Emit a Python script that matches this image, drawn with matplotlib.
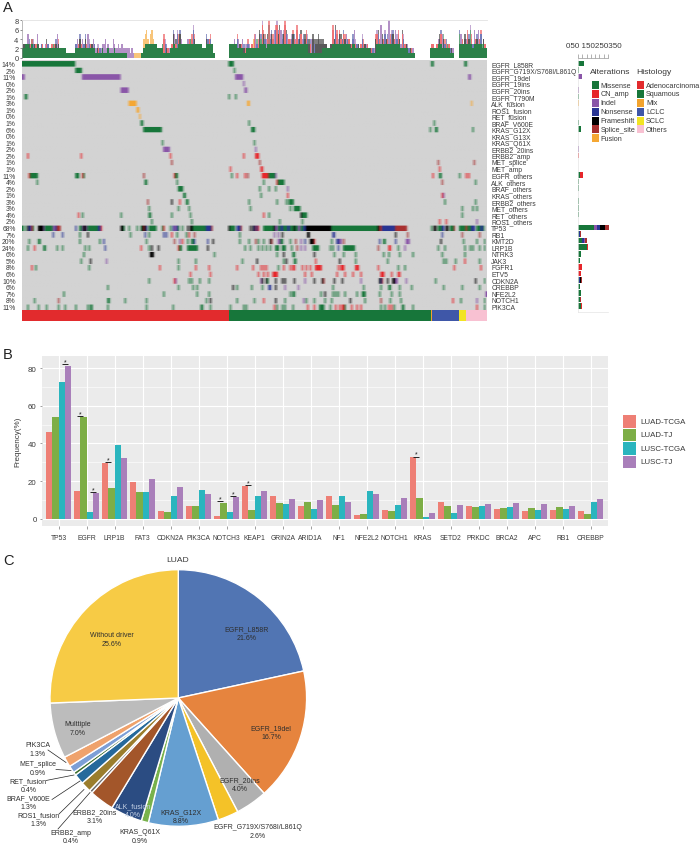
import numpy as np
import matplotlib
matplotlib.use("Agg")
import matplotlib.pyplot as plt
from matplotlib.colors import to_rgb
from matplotlib.patches import Rectangle

plt.rcParams['font.family'] = ['Liberation Sans', 'DejaVu Sans']
W, H = 700, 845

# ---------- Panel A data ----------
onco_genes = ["EGFR_L858R", "EGFR_G719X/S768I/L861Q", "EGFR_19del", "EGFR_19ins", "EGFR_20ins", "EGFR_T790M",
              "ALK_fusion", "ROS1_fusion", "RET_fusion", "BRAF_V600E", "KRAS_G12X", "KRAS_G13X", "KRAS_Q61X",
              "ERBB2_20ins", "ERBB2_amp", "MET_splice", "MET_amp", "EGFR_others", "ALK_others", "BRAF_others",
              "KRAS_others", "ERBB2_others", "MET_others", "RET_others", "ROS1_others", "TP53", "RB1", "KMT2D",
              "LRP1B", "NTRK3", "JAK3", "FGFR1", "ETV5", "CDKN2A", "CREBBP", "NFE2L2", "NOTCH1", "PIK3CA"]
onco_pct = [14, 2, 11, 0, 2, 1, 3, 1, 0, 1, 6, 0, 1, 2, 2, 1, 1, 11, 4, 2, 1, 3, 3, 4, 2, 68, 7, 20, 24, 6, 5, 8, 6,
            10, 6, 7, 8, 11]
n_samples = 349

# events per gene: (first sample, number of samples, alteration)
ev_l858r = [(0,40,'M'),(155,4,'M'),(307,2,'M'),(332,2,'M')]
ev_g719 = [(40,5,'M'),(159,1,'M')]
ev_19del = [(0,2,'I'),(45,29,'I'),(160,6,'I'),(335,2,'I')]
ev_19ins = [(166,1,'I')]
ev_20ins = [(74,6,'I'),(167,2,'I')]
ev_t790m = [(2,2,'M'),(155,1,'M'),(160,1,'M')]
ev_alkf = [(80,6,'U'),(169,2,'U'),(337,1,'U')]
ev_ros1f = [(86,2,'U')]
ev_retf = [(88,1,'U')]
ev_braf = [(89,2,'M'),(170,1,'M'),(309,1,'M')]
ev_g12x = [(91,14,'M'),(172,3,'M'),(306,1,'M'),(310,2,'M'),(338,1,'M')]
ev_g13x = []
ev_q61x = [(105,1,'M'),(174,1,'M')]
ev_e20 = [(106,5,'I'),(175,1,'I')]
ev_eamp = [(4,1,'C'),(44,1,'C'),(111,1,'C'),(166,1,'C'),(175,3,'C')]
ev_msplice = [(112,1,'S'),(178,1,'S'),(312,1,'S'),(339,1,'S')]
ev_mamp = [(156,1,'C'),(179,2,'C'),(313,1,'C')]
ev_egfro = [(5,1,'C'),(6,6,'M'),(40,3,'M'),(45,1,'C'),(46,1,'M'),(91,1,'S'),(114,1,'C'),(115,2,'M'),(157,1,'M'),
            (161,1,'C'),(167,1,'C'),(169,1,'S'),(180,5,'C'),(185,5,'M'),(190,1,'I'),(308,1,'C'),(313,2,'M'),
            (328,1,'M'),(333,1,'C'),(335,1,'C')]
ev_alko = [(11,1,'M'),(92,2,'M'),(116,1,'M'),(181,1,'M'),(191,1,'C'),(192,5,'M'),(315,1,'S'),(340,1,'M')]
ev_brafo = [(117,1,'M'),(118,3,'M'),(178,1,'M'),(185,1,'M'),(190,1,'M'),(199,1,'I')]
ev_kraso = [(121,2,'M'),(179,1,'M'),(199,1,'C'),(315,1,'C'),(316,1,'I')]
ev_erbbo = [(94,1,'S'),(112,1,'F'),(118,1,'C'),(123,2,'M'),(170,1,'M'),(191,1,'M'),(198,1,'M'),(200,4,'M'),
            (317,1,'M'),(340,1,'M')]
ev_meto = [(95,1,'M'),(117,1,'M'),(125,1,'M'),(171,1,'M'),(201,1,'M'),(204,5,'M'),(330,1,'M'),(338,1,'M'),(341,1,'M')]
ev_reto = [(42,1,'C'),(45,1,'M'),(74,1,'M'),(95,2,'M'),(112,1,'M'),(126,1,'M'),(181,1,'C'),(185,1,'M'),(209,1,'F'),
           (210,4,'M'),(330,1,'M')]
ev_ros1o = [(97,1,'M'),(127,1,'M'),(193,1,'M'),(210,1,'M'),(313,1,'C'),(318,1,'C'),(341,1,'I')]
ev_tp53 = [(0,1,'M'),(2,1,'M'),(4,1,'F'),(5,2,'N'),(7,1,'C'),(8,1,'M'),(12,4,'F'),(16,1,'I'),(17,6,'M'),(23,2,'I'),
           (25,1,'N'),(26,3,'S'),(40,1,'N'),(43,2,'M'),(45,1,'I'),(46,2,'F'),(48,1,'I'),(49,8,'M'),(57,2,'N'),
           (59,1,'C'),(74,2,'F'),(76,1,'M'),(80,1,'M'),(86,1,'M'),(89,1,'M'),(90,1,'F'),(91,1,'S'),(92,1,'F'),
           (93,1,'N'),(95,6,'M'),(105,1,'M'),(106,1,'C'),(111,1,'M'),(113,1,'N'),(114,2,'I'),(116,1,'N'),
           (117,1,'M'),(120,1,'M'),(124,1,'F'),(126,2,'F'),(128,10,'M'),(138,4,'N'),(142,1,'S'),(155,1,'F'),
           (156,4,'M'),(161,3,'N'),(164,1,'S'),(171,1,'F'),(173,1,'F'),(174,1,'N'),(175,1,'S'),(176,1,'N'),
           (177,1,'C'),(181,8,'M'),(189,1,'F'),(190,2,'I'),(192,2,'M'),(194,2,'N'),(196,3,'M'),(199,2,'N'),
           (201,3,'M'),(204,1,'F'),(205,2,'M'),(207,2,'I'),(209,2,'M'),(211,2,'N'),(213,19,'F'),(232,35,'M'),
           (267,1,'F'),(268,2,'S'),(270,10,'N'),(280,9,'S'),(307,1,'M'),(309,2,'F'),(312,2,'M'),(314,1,'M'),
           (315,2,'N'),(318,2,'F'),(321,3,'M'),(324,1,'S'),(328,5,'M'),(333,1,'C'),(334,3,'M'),(337,3,'N'),
           (341,3,'M'),(344,2,'N'),(346,1,'M')]
ev_rb1 = [(23,1,'N'),(30,1,'N'),(43,1,'M'),(49,1,'F'),(81,1,'M'),(92,1,'N'),(95,1,'M'),(106,1,'N'),(108,1,'N'),
          (112,1,'C'),(116,1,'M'),(123,1,'M'),(125,1,'C'),(129,1,'S'),(163,1,'M'),(189,1,'I'),(192,1,'I'),(195,1,'F'),
          (214,2,'F'),(233,2,'N'),(280,1,'F'),(289,1,'S'),(315,1,'N'),(330,1,'S'),(343,1,'S')]
ev_kmt2d = [(5,1,'M'),(12,2,'M'),(43,1,'M'),(58,1,'M'),(61,1,'N'),(93,1,'M'),(114,1,'S'),(118,1,'I'),(120,1,'C'),
            (124,1,'M'),(127,2,'M'),(129,1,'N'),(139,1,'N'),(143,1,'F'),(163,1,'M'),(170,1,'M'),(175,1,'S'),
            (177,1,'M'),(181,1,'M'),(186,1,'F'),(187,1,'S'),(192,2,'I'),(194,2,'M'),(201,1,'M'),(205,1,'S'),
            (209,1,'I'),(212,1,'N'),(216,3,'F'),(219,1,'C'),(232,1,'M'),(236,2,'N'),(238,2,'I'),(241,1,'S'),
            (268,1,'N'),(271,2,'M'),(280,1,'N'),(288,3,'I'),(314,1,'F'),(331,1,'M'),(341,1,'M'),(347,1,'M')]
ev_lrp1b = [(4,1,'M'),(9,1,'C'),(16,1,'M'),(17,1,'M'),(26,1,'M'),(30,1,'M'),(47,1,'M'),(50,1,'M'),(62,1,'N'),(89,1,'C'),
            (95,1,'M'),(97,1,'F'),(102,1,'F'),(117,1,'C'),(118,2,'M'),(124,5,'M'),(129,3,'M'),(139,1,'F'),
            (167,1,'M'),(171,1,'M'),(177,1,'M'),(180,1,'M'),(183,1,'M'),(186,1,'M'),(190,3,'M'),(195,3,'M'),
            (202,1,'M'),(206,1,'S'),(209,1,'I'),(212,1,'I'),(218,5,'M'),(231,1,'M'),(233,1,'M'),(237,1,'N'),
            (241,9,'M'),(267,1,'S'),(275,2,'C'),(282,1,'M'),(287,1,'I'),(312,1,'M'),(317,1,'M'),(332,1,'M'),
            (336,1,'M'),(338,1,'M'),(343,1,'M'),(347,1,'M')]
ev_ntrk3 = [(46,1,'M'),(96,3,'F'),(144,1,'M'),(191,1,'M'),(196,1,'F'),(203,2,'M'),(219,1,'F'),(234,1,'M'),(241,1,'M'),
            (250,1,'M'),(271,1,'M'),(275,1,'M'),(283,1,'M'),(293,1,'M'),(315,1,'M'),(332,1,'M')]
ev_jak3 = [(44,1,'M'),(51,1,'F'),(63,1,'I'),(117,1,'M'),(130,1,'M'),(165,1,'M'),(176,1,'F'),(196,1,'M'),(198,1,'F'),
           (204,2,'M'),(220,1,'C'),(238,1,'F'),(250,1,'M'),(274,1,'M'),(316,1,'M'),(318,1,'M'),(325,1,'M'),
           (332,1,'C'),(343,1,'M')]
ev_fgfr1 = [(7,1,'C'),(10,1,'M'),(50,1,'M'),(103,1,'C'),(117,1,'M'),(130,1,'C'),(140,1,'C'),(161,1,'C'),(173,1,'C'),
            (179,1,'C'),(181,1,'C'),(183,1,'C'),(192,1,'M'),(196,1,'C'),(201,1,'C'),(203,2,'C'),(210,1,'C'),
            (213,1,'C'),(216,1,'C'),(220,5,'C'),(237,1,'C'),(239,3,'C'),(250,3,'C'),(267,1,'C'),(282,1,'M'),
            (287,1,'M'),(324,1,'C'),(344,1,'C')]
ev_etv5 = [(126,1,'C'),(141,1,'C'),(177,1,'C'),(181,1,'C'),(184,1,'C'),(188,4,'C'),(212,1,'C'),(217,1,'C'),(236,1,'C'),
           (242,1,'C'),(248,1,'C'),(254,1,'C'),(269,3,'C'),(277,1,'C'),(282,2,'C')]
ev_cdkn2a = [(95,1,'M'),(114,1,'C'),(115,1,'I'),(125,1,'M'),(127,1,'M'),(133,1,'M'),(140,1,'M'),(179,1,'I'),(180,1,'F'),
             (183,1,'F'),(184,1,'M'),(190,1,'F'),(195,1,'F'),(197,1,'F'),(204,1,'F'),(212,1,'I'),(219,1,'F'),
             (225,1,'F'),(226,1,'S'),(234,1,'F'),(240,1,'F'),(254,1,'I'),(268,1,'F'),(269,1,'N'),(270,1,'S'),
             (274,1,'F'),(278,2,'F'),(280,2,'I'),(288,1,'I'),(310,1,'M'),(340,1,'F'),(347,1,'M')]
ev_crebbp = [(64,1,'M'),(117,1,'M'),(128,1,'M'),(131,1,'M'),(158,1,'F'),(161,1,'M'),(172,1,'M'),(180,1,'M'),(185,2,'N'),
             (190,1,'F'),(197,1,'I'),(207,1,'I'),(233,1,'M'),(256,1,'M'),(269,1,'M'),(275,2,'M'),(283,1,'M'),
             (292,1,'M'),(316,1,'M'),(330,1,'M'),(343,1,'M')]
ev_nfe2l2 = [(31,1,'M'),(106,1,'M'),(131,1,'M'),(140,1,'M'),(201,1,'M'),(203,2,'M'),(224,1,'M'),(227,1,'F'),(233,1,'M'),
             (235,1,'M'),(237,1,'M'),(242,1,'M'),(251,1,'M'),(255,3,'M'),(268,1,'M'),(277,1,'M'),(283,1,'M'),(348,1,'I')]
ev_notch1 = [(9,1,'M'),(27,1,'S'),(64,2,'M'),(77,1,'M'),(93,1,'M'),(138,1,'M'),(141,1,'F'),(161,1,'M'),(174,1,'M'),
             (181,1,'C'),(190,1,'F'),(197,1,'M'),(211,1,'I'),(213,1,'M'),(219,1,'M'),(227,1,'M'),(232,1,'M'),
             (246,1,'F'),(257,1,'M'),(269,1,'S'),(276,1,'M'),(284,1,'M'),(323,1,'C'),(329,1,'M'),(341,1,'I'),(347,1,'M')]
ev_pik3ca = [(4,1,'M'),(12,1,'M'),(18,1,'M'),(27,1,'M'),(32,1,'M'),(40,1,'M'),(49,1,'M'),(51,2,'M'),(64,1,'M'),(93,1,'M'),
             (113,1,'M'),(134,2,'M'),(141,1,'M'),(156,1,'M'),(166,1,'M'),(168,1,'M'),(189,1,'C'),(191,1,'M'),
             (195,1,'M'),(197,1,'M'),(203,1,'M'),(214,1,'C'),(219,1,'C'),(223,4,'M'),(231,1,'M'),(235,1,'C'),
             (238,1,'C'),(240,2,'C'),(242,1,'M'),(247,1,'C'),(251,1,'C'),(254,1,'C'),(269,1,'M'),(272,1,'M'),
             (275,1,'C'),(277,1,'C'),(279,1,'M'),(285,2,'M'),(293,1,'M'),(341,1,'C'),(347,1,'M')]
onco_events = [ev_l858r, ev_g719, ev_19del, ev_19ins, ev_20ins, ev_t790m, ev_alkf, ev_ros1f, ev_retf, ev_braf, ev_g12x,
               ev_g13x, ev_q61x, ev_e20, ev_eamp, ev_msplice, ev_mamp, ev_egfro, ev_alko, ev_brafo, ev_kraso, ev_erbbo,
               ev_meto, ev_reto, ev_ros1o, ev_tp53, ev_rb1, ev_kmt2d, ev_lrp1b, ev_ntrk3, ev_jak3, ev_fgfr1, ev_etv5,
               ev_cdkn2a, ev_crebbp, ev_nfe2l2, ev_notch1, ev_pik3ca]

# alterations per sample (top bars)
top_total = [2,3,3,3,5,4,3,4,4,3, 3,5,3,2,3,3,2,3,4,3, 2,2,3,3,3,4,5,4,2,2, 2,2,2,1,1,1,1,1,1,1,
             3,4,3,5,3,4,3,5,3,5, 4,3,3,4,3,2,3,3,2,2, 3,3,4,2,3,2,2,2,4,3, 2,2,3,2,
             3,3,2,2,2,2, 2,1,2,1,1,1, 1,1,1,1,1,
             4,5,6,4,3,5,6,4,3,3, 2,2,2,2,3,5,4,3,2,2, 2,3,6,5,4,6,5,6,4,3, 3,3,3,4,4,4,5,7,5,3,
             3,3,3,3,2,2,2,5,4,4,5,3,1,1,
             0,0,0,0,0,0,0,0,0,0,
             3,3,3,3,4,3,5,4,3,3, 4,3,3,3,4,3,2,3,4,5, 5,4,4,6,5,8,6,5,4,5, 8,5,6,5,6,7,8,6,7,6,
             5,6,8,6,5,4,4,5,6,5, 4,7,4,5,6,4,5,5,6,5, 4,4,4,5,4,4,4,5,4,4, 4,4,3,3,2,2,3,3,7,4,
             7,6,4,6,5,4,6,5,5,4,
             4,3,3,5,6,4,3,3,2,3, 5,4,3,3,3,2,2,2,2,2, 5,6,6,4,7,5,4,6,4,5, 8,5,6,6,4,6,5,6,4,3,
             6,5,3,3,3,2,2,2,2,1,
             0,0,0,0,0,0,0,0,0,0,0,
             2,3,3,2,2,3,4,5,6,5, 5,4,4,3,3,2,2,2, 0,0,0,0,
             6,5,4,3,5,4,6,5,7,5, 3,6,4,5,6,4,6,3,4,3,2]
top_green = [2,2,3,3,3,2,2,3,2,2, 2,3,2,2,2,2,2,2,2,2, 2,2,2,2,2,2,2,2,2,2, 2,2,2,1,1,1,1,1,1,1,
             2,2,2,2,2,2,2,2,2,2, 2,2,2,2,2,1,1,1,1,1, 2,1,1,1,2,1,1,1,1,2, 1,1,1,1,
             1,1,1,1,1,0, 0,0,0,0,0,0, 0,0,0,1,1,
             2,3,3,3,3,3,3,3,3,3, 2,2,2,2,2,1,1,1,1,1, 2,2,3,3,2,2,3,3,3,3, 3,3,3,3,3,3,3,3,3,3,
             3,3,3,3,2,2,2,3,3,3,3,3,1,1,
             0,0,0,0,0,0,0,0,0,0,
             3,3,3,3,3,3,2,2,2,2, 2,1,1,2,2,2,2,2,2,2, 2,2,2,3,3,3,3,3,2,3, 3,3,3,3,3,3,3,3,3,3,
             3,3,3,3,3,3,2,3,3,3, 3,3,3,3,3,3,3,3,3,3, 1,1,1,1,1,1,1,1,1,1, 2,2,2,2,2,2,2,2,3,3,
             3,3,3,3,3,3,3,3,3,3,
             3,2,2,3,3,2,2,2,2,2, 2,2,2,2,2,2,1,1,1,1, 1,3,3,3,3,3,3,3,3,3, 3,3,3,3,3,3,3,3,3,2,
             2,2,2,2,2,1,1,1,1,1,
             0,0,0,0,0,0,0,0,0,0,0,
             2,2,2,2,2,2,3,3,3,2, 2,2,2,2,2,1,1,1, 0,0,0,0,
             3,3,3,3,3,3,3,3,3,3, 2,3,3,3,3,3,3,2,3,2,2]
top_kind = ("CFNCIFCSNF" "CIFCNCFICN" "NFCMCFIFNC" "CFCIMCNFCI"
            "NICFCINFCI" "NCFINIFCNI" "IIIIIIIIII" "IIIIIIIIII" "IIIIUUUUUU" "UUUUUUUUUF"
            "CNFICMCNFC" "INCFICNCFI" "CNCFICMCNF" "CICNFCICFN" "CNFICFNCFI"
            "IIIIIIIIII"
            "FNIFCIFCIN" "IFCUCINCFM" "CFNICSNFCI" "NCFCINFCNI" "CFNFCICNFC" "INFCNFCIFN"
            "FFFFFFFFFF" "FFFCFNCIFC" "NCFINCFCNI" "CNFICNCFIC" "NFCNIFCNCI" "FCNFCICNFC"
            "INCFICNCFI" "NFCICFNCMI" "FCCCCCCCCC" "NCIFCIFNCM" "CNFICFNCMI" "CNFICFMCNI" "CFICNMFC")

hist_names = ["Adenocarcinoma", "Squamous", "Mix", "LCLC", "SCLC", "Others"]
hist_counts = [155, 152, 1, 20, 5, 16]
hist_colors = ['#e22b2d', '#17763a', '#f2a32e', '#3f57a8', '#f2e423', '#f8c1d2']

alt_names = ["Missense", "CN_amp", "Indel", "Nonsense", "Frameshift", "Splice_site", "Fusion"]
alt_keys = ['M', 'C', 'I', 'N', 'F', 'S', 'U']
alt_colors = ['#17763a', '#e6262b', '#8a56a8', '#283593', '#000000', '#a83030', '#f5a733']

# totals per gene, read against the top axis of the side bars: (kind, value) stacks
side_stacks = [[('M',68)], [('M',8)], [('I',50)], [('I',2)], [('I',15)], [('M',8)], [('U',12)], [('U',4)], [('U',2)],
               [('M',6)], [('M',30)], [('M',1)], [('M',5)], [('I',8)], [('C',7)], [('S',5)], [('C',4)],
               [('M',28),('C',25)], [('M',15),('C',2)], [('M',6)], [('C',2),('I',2)], [('M',12)], [('M',12)],
               [('M',12)], [('I',3),('C',1)], [('M',186),('I',36),('N',36),('F',60),('S',38)],
               [('M',10),('N',12),('S',8)], [('M',50),('N',20),('I',15),('S',15)], [('M',110),('C',10)],
               [('M',30)], [('M',22)], [('M',4),('C',38)], [('M',2),('C',30)],
               [('M',14),('N',14),('F',12),('S',8)], [('M',25),('N',3)], [('M',33)], [('M',23),('S',10)],
               [('M',38),('C',14)]]

# ---------- Panel B data ----------
b_genes = ["TP53", "EGFR", "LRP1B", "FAT3", "CDKN2A", "PIK3CA", "NOTCH3", "KEAP1", "GRIN2A", "ARID1A", "NF1", "NFE2L2",
           "NOTCH1", "KRAS", "SETD2", "PRKDC", "BRCA2", "APC", "RB1", "CREBBP"]
luad_tcga = [46, 14.5, 29.6, 19.3, 4, 6.5, 1.4, 17.5, 11.9, 7, 11.9, 1.9, 4.6, 32.6, 8.9, 7, 5, 4, 4.6, 4]
luad_tj = [53.8, 53.8, 16.3, 14.2, 3.5, 6.7, 8.5, 4.4, 8.5, 8.9, 7.3, 2.3, 4, 11.2, 6.7, 6.4, 5.8, 5.8, 6.4, 2.3]
lusc_tcga = [72.4, 3.4, 39, 14.2, 12, 15.4, 3.5, 12, 8, 5.1, 12, 14.9, 7.3, 1.1, 3, 6.9, 6.4, 4.8, 5.1, 8.7]
lusc_tj = [81, 13.6, 32, 21.2, 16.8, 13.3, 11.5, 14.5, 10.4, 9.9, 8.7, 13.3, 11, 2.8, 7.3, 7.8, 8.3, 7.8, 6.9, 10.4]
b_series = ["LUAD-TCGA", "LUAD-TJ", "LUSC-TCGA", "LUSC-TJ"]
b_colors = ['#ee7f75', '#7dae46', '#2ab5be', '#a97fba']
sig_gene = [0, 1, 1, 2, 6, 6, 7, 13]
sig_side = [1, -1, 1, -1, -1, 1, -1, -1]
sig_value = [82, 54.5, 14.2, 30, 9.2, 11.9, 18, 33]

# ---------- Panel C data ----------
pie_names = ["EGFR_L858R", "EGFR_19del", "EGFR_20ins", "EGFR_G719X/S768I/L861Q", "KRAS_G12X", "KRAS_Q61X", "ALK_fusion",
             "ERBB2_20ins", "ERBB2_amp", "ROS1_fusion", "BRAF_V600E", "RET_fusion", "MET_splice", "PIK3CA", "Multtiple",
             "Without driver"]
pie_values = [21.6, 16.7, 4.0, 2.6, 8.8, 0.9, 4.0, 3.1, 0.4, 1.3, 1.3, 0.4, 0.9, 1.3, 7.0, 25.6]
pie_colors = ['#5175b3', '#e6843e', '#b0b0b0', '#f4c228', '#659fd1', '#78b24c', '#2b4c82', '#a3562a', '#6e6e6e',
              '#9a7d2d', '#25699b', '#3d6e2c', '#7c9fd6', '#efa26c', '#bcbcbc', '#f7cb45']
pie_label_px = [(246.7, 634), (271, 733), (239.7, 785), (257.7, 832), (181, 817), (140, 837), (132.7, 811), (94.3, 817),
                (70.7, 837.5), (38.3, 820), (28.3, 803), (28.3, 786), (38, 769), (38, 750), (77.3, 729), (111.7, 640)]
leader_px = {"PIK3CA": ((48, 751), (66, 763.5)), "MET_splice": ((56, 770.5), (71, 771.5)),
             "RET_fusion": ((46, 781.5), (74, 776)), "BRAF_V600E": ((52, 800.5), (80, 782)),
             "ROS1_fusion": ((59, 815), (84, 790.5)), "ERBB2_amp": ((58, 830), (90, 793.5))}

# ---------- helpers ----------
fig = plt.figure(figsize=(W / 100, H / 100), dpi=100, facecolor='white')


def axpx(x0, y0, x1, y1, **kw):
    return fig.add_axes([x0 / W, 1 - y1 / H, (x1 - x0) / W, (y1 - y0) / H], **kw)


kind_rgb = {k: to_rgb(c) for k, c in zip(alt_keys, alt_colors)}
kind_rgb['G'] = to_rgb('#d3d3d3')
TXT = '#3a3a3a'

# ---------- A: top bars ----------
ax = axpx(22, 20.5, 487, 58.7)
x = np.arange(len(top_total)) + 0.5
tot = np.array(top_total, float)
grn = np.minimum(np.array(top_green, float), tot)
ax.bar(x, grn, width=1.02, color='#2b8048', linewidth=0)
kind_list = list(top_kind)
for i in range(len(tot)):
    extra = tot[i] - grn[i]
    if extra <= 0:
        continue
    k = kind_list[i % len(kind_list)]
    k2 = kind_list[(i + 3) % len(kind_list)]
    if k in 'IU' or extra == 1:
        ax.bar(x[i], extra, bottom=grn[i], width=1.0, color=kind_rgb[k], alpha=0.65, linewidth=0)
    else:
        ax.bar(x[i], extra - 1, bottom=grn[i], width=1.0, color=kind_rgb[k], alpha=0.65, linewidth=0)
        ax.bar(x[i], 1, bottom=tot[i] - 1, width=1.0, color=kind_rgb[k2], alpha=0.5, linewidth=0)
ax.set_xlim(0, n_samples)
ax.set_ylim(0, 8.2)
ax.set_yticks([0, 2, 4, 6, 8])
ax.set_xticks([])
ax.tick_params(axis='y', labelsize=5.4, length=1.5, width=0.4, pad=1, colors=TXT)
for s in ['right', 'bottom']:
    ax.spines[s].set_visible(False)
ax.spines['left'].set_linewidth(0.4)
ax.spines['left'].set_color('#888888')
ax.spines['top'].set_linewidth(0.6)
ax.spines['top'].set_color('#e2e2e2')

# ---------- A: matrix ----------
sub = 6
mat = np.ones((len(onco_genes) * sub, n_samples, 3)) * np.array(kind_rgb['G'])
for r, evs in enumerate(onco_events):
    for s0, n, k in evs:
        mat[r * sub + 1:r * sub + sub, s0:s0 + n] = kind_rgb[k]
soft = mat.copy()
soft[:, 1:-1] = 0.25 * mat[:, :-2] + 0.5 * mat[:, 1:-1] + 0.25 * mat[:, 2:]
ax = axpx(22, 61.2, 487, 310.6)
ax.imshow(soft, extent=(0, n_samples, len(onco_genes), 0), aspect='auto', interpolation='hanning')
ax.set_xticks([])
ax.set_yticks(np.arange(len(onco_genes)) + 0.5)
ax.set_yticklabels([f"{p}%" for p in onco_pct], fontsize=4.9, color=TXT)
ax.tick_params(axis='y', length=0, pad=4.6)
for s in ax.spines.values():
    s.set_visible(False)
ax2 = ax.twinx()
ax2.set_ylim(len(onco_genes), 0)
ax2.set_yticks(np.arange(len(onco_genes)) + 0.5)
ax2.set_yticklabels(onco_genes, fontsize=4.9, color=TXT)
ax2.tick_params(axis='y', length=0, pad=3)
for s in ax2.spines.values():
    s.set_visible(False)

# ---------- A: histology strip ----------
ax = axpx(22, 311.3, 487, 322)
left = 0
for c, col in zip(hist_counts, hist_colors):
    ax.barh(0, c, left=left, height=1, color=col, linewidth=0)
    left += c
ax.set_xlim(0, n_samples)
ax.set_ylim(-0.5, 0.5)
ax.axis('off')

# ---------- A: side bars ----------
ax = axpx(577.5, 58.5, 608, 313)
ax.set_xlim(-6, 350)
ax.set_ylim((313 - 64.5) / 6.56, (58.5 - 64.5) / 6.56)
for r, st in enumerate(side_stacks):
    left = 0
    for k, v in st:
        ax.barh(r, v, left=left, height=0.85, color=kind_rgb[k], linewidth=0)
        left += v
ax.xaxis.tick_top()
ax.set_xticks(np.arange(0, 351, 50))
ax.set_xticklabels([])
ax.set_yticks([])
ax.tick_params(axis='x', length=3.0, width=0.4, color='#777777', pad=0)
ax.spines['right'].set_visible(False)
for s in ['top', 'left', 'bottom']:
    ax.spines[s].set_linewidth(0.5)
    ax.spines[s].set_color('#e4e4e4')
ax.spines['top'].set_color('#999999')
for t in ax.patches:
    t.set_clip_on(False)

# ---------- B ----------
ax = axpx(41.7, 356.7, 607.7, 527.3)
ax.set_facecolor('#ebebeb')
ax.set_xlim(-0.607, 19.607)
ax.set_ylim(-4.04, 86.6)
ax.set_axisbelow(True)
ax.grid(True, axis='both', which='major', color='white', linewidth=0.8)
ax.set_yticks([10, 30, 50, 70], minor=True)
ax.grid(True, axis='y', which='minor', color='white', linewidth=0.4)
ax.tick_params(axis='y', which='minor', length=0)
pos = np.arange(len(b_genes))
bw = 0.225
for i, (vals, col) in enumerate(zip([luad_tcga, luad_tj, lusc_tcga, lusc_tj], b_colors)):
    ax.bar(pos + (i - 1.5) * bw, vals, width=bw, color=col, linewidth=0)
for g, side, v in zip(sig_gene, sig_side, sig_value):
    cx = g + side * 0.225
    ax.plot([cx - 0.11, cx + 0.11], [v, v], color='#222222', lw=0.7, solid_capstyle='butt')
    ax.text(cx, v - 0.6, '*', ha='center', va='bottom', fontsize=5, color='#222222')
ax.set_xticks(pos)
ax.set_xticklabels(b_genes, fontsize=4.9, color=TXT)
ax.set_yticks([0, 20, 40, 60, 80])
ax.set_yticklabels(['0', '20', '40', '60', '80'], fontsize=5.7, color=TXT)
ax.tick_params(axis='both', which='major', length=1.8, width=0.4, color='#555555', pad=1.8)
ax.tick_params(axis='x', pad=3.5)
ax.set_ylabel("Frequency(%)", fontsize=5.8, color=TXT, labelpad=5)
for s in ax.spines.values():
    s.set_visible(False)

# ---------- C ----------
ax = axpx(178.3 - 128.3, 699 - 128.3, 178.3 + 128.3, 699 + 128.3)
ax.pie(pie_values, colors=pie_colors, startangle=90, counterclock=False, radius=1,
       wedgeprops=dict(edgecolor='white', linewidth=1.0))
ax.set_xlim(-1, 1)
ax.set_ylim(-1, 1)

# ---------- overlay: texts, legends, leaders ----------
ov = axpx(0, 0, W, H)
ov.set_xlim(0, W)
ov.set_ylim(H, 0)
ov.axis('off')
ov.patch.set_alpha(0)

for t, yy in zip("AB", (7.5, 355)):
    ov.text(3, yy, t, fontsize=10.5, ha='left', va='center', color='#222222')
ov.text(3, 561, "C", fontsize=10.5, ha='left', va='center', color='#222222')
ov.text(594, 47, "050 150250350", fontsize=5.8, ha='center', va='center', color=TXT)

# alteration and histology legends
ov.text(590, 73, "Alterations", fontsize=6.1, ha='left', va='center', color=TXT)
ov.text(636.7, 73, "Histology", fontsize=6.1, ha='left', va='center', color=TXT)
leg_y = [86.3, 95, 103.7, 112.7, 121.7, 130.3, 139.3]
for yy, name, col in zip(leg_y, alt_names, alt_colors):
    ov.add_patch(Rectangle((592.3, yy - 4), 6.7, 8, color=col, lw=0))
    ov.text(600.7, yy, name, fontsize=5.2, ha='left', va='center', color=TXT)
for yy, name, col in zip(leg_y, hist_names, hist_colors):
    ov.add_patch(Rectangle((637.3, yy - 4), 6.4, 8, color=col, lw=0))
    ov.text(646, yy, name, fontsize=5.2, ha='left', va='center', color=TXT)

# panel B legend
for i, (name, col) in enumerate(zip(b_series, b_colors)):
    yy = 416 + i * 13.5
    ov.add_patch(Rectangle((623.3, yy), 12.4, 12.6, color=col, lw=0))
    ov.text(640, yy + 6.3, name, fontsize=5.7, ha='left', va='center', color=TXT)

# pie labels
ov.text(178, 560.7, "LUAD", fontsize=6.1, ha='center', va='center', color=TXT)
for name, val, (px, py) in zip(pie_names, pie_values, pie_label_px):
    tcol = '#c7d3e6' if name == "ALK_fusion" else '#2e2e2e'
    ov.text(px, py - 4.2, name, fontsize=5.0, ha='center', va='center', color=tcol)
    ov.text(px, py + 4.2, f"{val:.1f}%", fontsize=5.0, ha='center', va='center', color=tcol)
for (x0, y0), (x1, y1) in leader_px.values():
    ov.plot([x0, x1], [y0, y1], color='#222222', lw=0.5)

fig.savefig("out.png", dpi=100, facecolor='white')
print(len(top_total), len(top_green), len(top_kind))
